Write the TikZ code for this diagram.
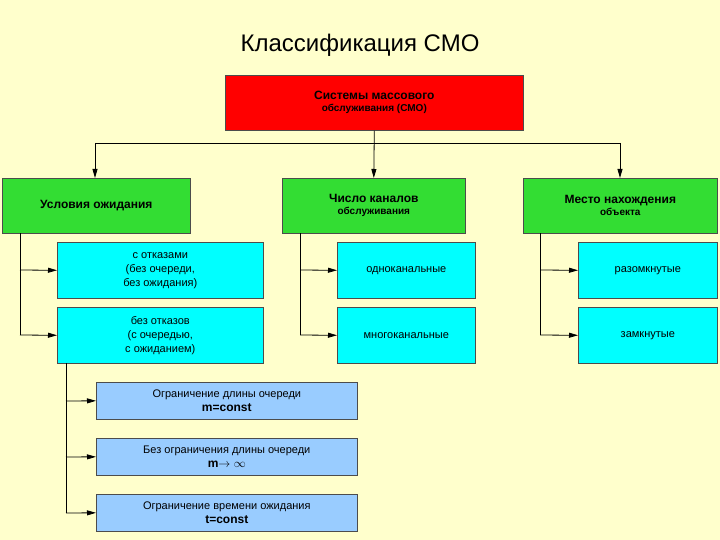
\documentclass[tikz,border=0pt]{standalone}
\usepackage{fontspec}
\setmainfont{Liberation Sans}
\usetikzlibrary{arrows.meta}
\definecolor{bg}{HTML}{FFFFCC}
\definecolor{redb}{HTML}{FF0000}
\definecolor{greenb}{HTML}{33DD33}
\definecolor{cyanb}{HTML}{00FFFF}
\definecolor{blueb}{HTML}{99CCFF}
\begin{document}
\begin{tikzpicture}[x=1pt,y=-1pt,
 box/.style={draw=black!70,line width=0.6pt,align=center,inner sep=1pt,anchor=north west},
 arr/.style={line width=0.8pt,-{Triangle[length=9pt,width=5pt]}},
 ln/.style={line width=0.8pt}]
\fill[bg] (0,0) rectangle (720,540);
\useasboundingbox (0,0) rectangle (720,540);
\node (title) at (360,45) {\fontsize{24}{28}\selectfont Классификация СМО};
\node[box,fill=redb,minimum width=298pt,minimum height=55pt] (root) at (225,75) {\fontsize{12}{15}\selectfont\bfseries Системы массового\\\bfseries обслуживания (СМО)};
\node[box,fill=greenb,minimum width=188pt,minimum height=55pt] (g1) at (2,178) {\fontsize{12}{15}\selectfont\bfseries Условия ожидания};
\node[box,fill=greenb,minimum width=183pt,minimum height=55pt] (g2) at (282,178) {\fontsize{12}{15}\selectfont\bfseries Число каналов\\\bfseries обслуживания};
\node[box,fill=greenb,minimum width=194pt,minimum height=55pt] (g3) at (523,178) {\fontsize{12}{15}\selectfont\bfseries Место нахождения\\\bfseries объекта};
\tikzset{cy/.style={box,fill=cyanb,minimum height=56pt,font=\fontsize{11}{14}\selectfont}}
\node[cy,minimum width=206pt] (c1) at (57,242) {с отказами\\(без очереди,\\без ожидания)};
\node[cy,minimum width=206pt] (c2) at (57,307) {без отказов\\(с очередью,\\с ожиданием)};
\node[cy,minimum width=138pt] (c3) at (337,242) {одноканальные};
\node[cy,minimum width=138pt] (c4) at (337,307) {многоканальные};
\node[cy,minimum width=139pt] (c5) at (578,242) {разомкнутые};
\node[cy,minimum width=139pt] (c6) at (578,307) {замкнутые};
\tikzset{bl/.style={box,fill=blueb,minimum width=261pt,minimum height=37pt,font=\fontsize{11}{14}\selectfont}}
\node[bl] (b1) at (96,382) {Ограничение длины очереди\\{\fontsize{12}{14}\selectfont\bfseries m=const}};
\node[bl] (b2) at (96,438) {Без ограничения длины очереди\\{\fontsize{12}{14}\selectfont\bfseries m$\rightarrow\infty$}};
\node[bl] (b3) at (96,494) {Ограничение времени ожидания\\{\fontsize{12}{14}\selectfont\bfseries t=const}};
% top bus
\coordinate (j) at (373,143);
\draw[arr] (root.south) -- (g2.north);
\draw[ln] (95,143) -- (620,143);
\draw[arr] (95,143) -- (g1.north -| 95,0);
\draw[arr] (620,143) -- (g3.north -| 620,0);
% left branches
\draw[ln] (20,233) -- (20,335);
\draw[arr] (20,270) -- (c1.west);
\draw[arr] (20,335) -- (c2.west);
\draw[ln] (300,233) -- (300,335);
\draw[arr] (300,270) -- (c3.west);
\draw[arr] (300,335) -- (c4.west);
\draw[ln] (540,233) -- (540,335);
\draw[arr] (540,270) -- (c5.west);
\draw[arr] (540,335) -- (c6.west);
\draw[ln] (66,363) -- (66,513);
\draw[arr] (66,401) -- (b1.west);
\draw[arr] (66,457) -- (b2.west);
\draw[arr] (66,513) -- (b3.west);
\end{tikzpicture}
\end{document}
